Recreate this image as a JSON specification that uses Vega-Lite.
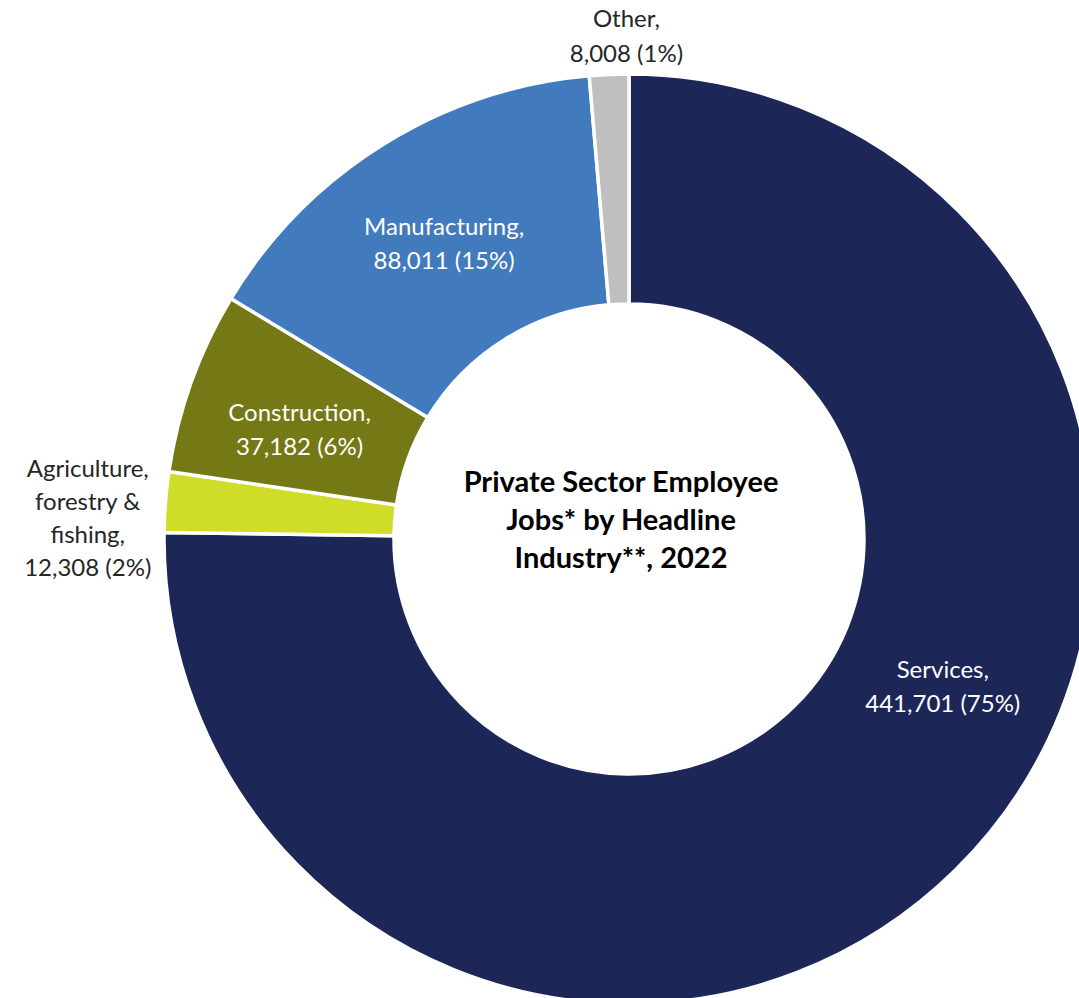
{
  "$schema": "https://vega.github.io/schema/vega-lite/v6.json",
  "width": 1258,
  "height": 1078,
  "padding": 0,
  "autosize": {"type": "none"},
  "background": "white",
  "config": {"view": {"stroke": null}},
  "datasets": {
    "jobs": [
      {"category": "Services", "value": 441701, "rank": 1, "label": "Services,\n441,701 (75%)"},
      {"category": "Agriculture, forestry & fishing", "value": 12308, "rank": 2, "label": "Agriculture,\nforestry &\nfishing,\n12,308 (2%)"},
      {"category": "Construction", "value": 37182, "rank": 3, "label": "Construction,\n37,182 (6%)"},
      {"category": "Manufacturing", "value": 88011, "rank": 4, "label": "Manufacturing,\n88,011 (15%)"},
      {"category": "Other", "value": 8008, "rank": 5, "label": "Other,\n8,008 (1%)"}
    ]
  },
  "layer": [
    {
      "data": {"name": "jobs"},
      "mark": {"type": "arc", "outerRadius": 465, "innerRadius": 235, "stroke": "white", "strokeWidth": 3.5},
      "encoding": {
        "theta": {"field": "value", "type": "quantitative", "stack": true},
        "order": {"field": "rank", "type": "quantitative"},
        "color": {
          "field": "category", "type": "nominal", "legend": null,
          "scale": {
            "domain": ["Services", "Agriculture, forestry & fishing", "Construction", "Manufacturing", "Other"],
            "range": ["#1c2757", "#cfdc28", "#747915", "#427bbd", "#bfbfbf"]
          }
        }
      }
    },
    {
      "data": {"name": "jobs"},
      "mark": {"type": "text", "radius": 350, "dy": -14, "font": "Lato", "fontSize": 24, "lineBreak": "\n", "lineHeight": 34, "align": "center", "baseline": "middle", "color": "white"},
      "encoding": {
        "theta": {"field": "value", "type": "quantitative", "stack": true},
        "order": {"field": "rank", "type": "quantitative"},
        "detail": {"field": "category", "type": "nominal"},
        "text": {"condition": {"test": "datum.category === 'Manufacturing'", "field": "label"}, "value": ""}
      }
    },
    {
      "data": {"name": "jobs"},
      "mark": {"type": "text", "radius": 350, "dy": -7, "font": "Lato", "fontSize": 24, "lineBreak": "\n", "lineHeight": 34, "align": "center", "baseline": "middle", "color": "white"},
      "encoding": {
        "theta": {"field": "value", "type": "quantitative", "stack": true},
        "order": {"field": "rank", "type": "quantitative"},
        "detail": {"field": "category", "type": "nominal"},
        "text": {"condition": {"test": "datum.category === 'Construction'", "field": "label"}, "value": ""}
      }
    },
    {
      "data": {"name": "jobs"},
      "mark": {"type": "text", "radius": 350, "dx": 68, "dy": -117, "font": "Lato", "fontSize": 24, "lineBreak": "\n", "lineHeight": 34, "align": "center", "baseline": "middle", "color": "white"},
      "encoding": {
        "theta": {"field": "value", "type": "quantitative", "stack": true},
        "order": {"field": "rank", "type": "quantitative"},
        "detail": {"field": "category", "type": "nominal"},
        "text": {"condition": {"test": "datum.category === 'Services'", "field": "label"}, "value": ""}
      }
    },
    {
      "data": {"name": "jobs"},
      "mark": {"type": "text", "radius": 543, "dy": -26, "font": "Lato", "fontSize": 24, "lineBreak": "\n", "lineHeight": 33, "align": "center", "baseline": "middle", "color": "#262626"},
      "encoding": {
        "theta": {"field": "value", "type": "quantitative", "stack": true},
        "order": {"field": "rank", "type": "quantitative"},
        "detail": {"field": "category", "type": "nominal"},
        "text": {"condition": {"test": "datum.category === 'Agriculture, forestry & fishing'", "field": "label"}, "value": ""}
      }
    },
    {
      "data": {"name": "jobs"},
      "mark": {"type": "text", "radius": 504, "dx": 19, "dy": -15, "font": "Lato", "fontSize": 24, "lineBreak": "\n", "lineHeight": 35, "align": "center", "baseline": "middle", "color": "#262626"},
      "encoding": {
        "theta": {"field": "value", "type": "quantitative", "stack": true},
        "order": {"field": "rank", "type": "quantitative"},
        "detail": {"field": "category", "type": "nominal"},
        "text": {"condition": {"test": "datum.category === 'Other'", "field": "label"}, "value": ""}
      }
    },
    {
      "data": {"values": [{"title": "Private Sector Employee\nJobs* by Headline\nIndustry**, 2022"}]},
      "mark": {"type": "text", "dx": -8, "dy": -56, "font": "Lato", "fontSize": 29, "fontWeight": "bold", "lineBreak": "\n", "lineHeight": 38, "align": "center", "baseline": "middle", "color": "black"},
      "encoding": {
        "text": {"field": "title", "type": "nominal"}
      }
    }
  ]
}
